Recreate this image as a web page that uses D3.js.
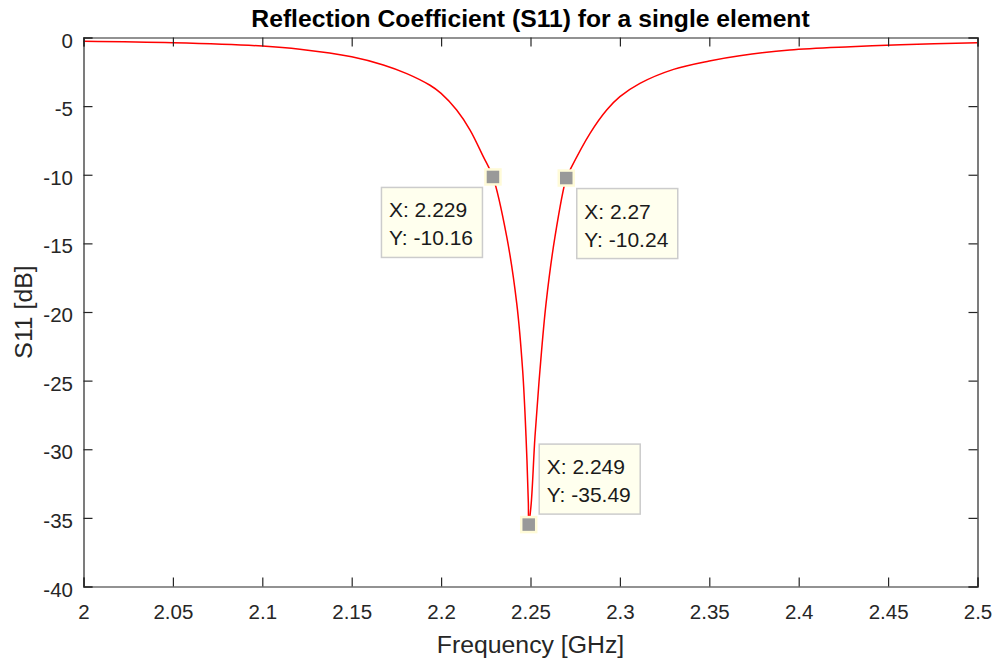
<!DOCTYPE html>
<html>
<head>
<meta charset="utf-8">
<script src="https://cdn.jsdelivr.net/npm/d3@7"></script>
<style>
  body { margin: 0; background: #fff; }
  text { font-family: "Liberation Sans", Arial, Helvetica, sans-serif; }
</style>
</head>
<body>
<div id="chart"></div>
<script>
// S11 curve (GHz, dB)
var freq = [2.000, 2.050, 2.100, 2.121, 2.150, 2.1677, 2.1808, 2.1938, 2.200, 2.2087,
            2.2162, 2.2236, 2.229, 2.2367, 2.2423, 2.2456, 2.2475, 2.2488, 2.249,
            2.2504, 2.2525, 2.2553, 2.2587, 2.2637, 2.270, 2.2721, 2.2833, 2.2926,
            2.300, 2.3112, 2.330, 2.350, 2.367, 2.395, 2.429, 2.457, 2.500];
var s11 = [-0.27, -0.38, -0.62, -0.85, -1.40, -2.00, -2.63, -3.48, -4.07, -5.28,
           -6.74, -8.68, -10.16, -14.51, -19.37, -24.23, -29.09, -33.94, -35.49,
           -33.94, -29.09, -24.23, -19.37, -14.51, -10.24, -9.65, -6.98, -5.28,
           -4.31, -3.34, -2.32, -1.71, -1.33, -0.91, -0.67, -0.53, -0.38];

// data tips
var tipX = [2.229, 2.27, 2.249];
var tipY = [-10.16, -10.24, -35.49];
var tipSide = ["below-left", "below-right", "above-right"];

var xTicks = [2, 2.05, 2.1, 2.15, 2.2, 2.25, 2.3, 2.35, 2.4, 2.45, 2.5];
var yTicks = [0, -5, -10, -15, -20, -25, -30, -35, -40];

var width = 995, height = 660;
var margin = {left: 83.5, right: 17.5, top: 37.5, bottom: 73.5};
var axisColor = "#262626";

var svg = d3.select("#chart").append("svg")
    .attr("width", width)
    .attr("height", height);

var x = d3.scaleLinear().domain([2, 2.5]).range([margin.left, width - margin.right]);
var y = d3.scaleLinear().domain([-40, 0]).range([height - margin.bottom, margin.top]);

var pts = freq.map(function(f, i) { return [f, s11[i]]; });

// curve
svg.append("path")
    .datum(pts)
    .attr("fill", "none")
    .attr("stroke", "#ff0000")
    .attr("stroke-width", 1.5)
    .attr("d", d3.line()
        .x(function(d) { return x(d[0]); })
        .y(function(d) { return y(d[1]); })
        .curve(d3.curveCatmullRom.alpha(0.5)));

// axes (box with inward ticks on all sides)
var tick = 9;
var axBottom = svg.append("g").attr("transform", `translate(0, ${y(-40)})`)
    .call(d3.axisBottom(x).tickValues(xTicks).tickSize(-tick).tickPadding(0)
        .tickFormat(function(d) { return String(+d.toFixed(2)); }));
var axTop = svg.append("g").attr("transform", `translate(0, ${y(0)})`)
    .call(d3.axisTop(x).tickValues(xTicks).tickSize(-tick).tickFormat(""));
var axLeft = svg.append("g").attr("transform", `translate(${x(2)}, 0)`)
    .call(d3.axisLeft(y).tickValues(yTicks).tickSize(-tick).tickPadding(0)
        .tickFormat(function(d) { return String(d).replace("\u2212", "-"); }));
var axRight = svg.append("g").attr("transform", `translate(${x(2.5)}, 0)`)
    .call(d3.axisRight(y).tickValues(yTicks).tickSize(-tick).tickFormat(""));

[axBottom, axTop, axLeft, axRight].forEach(function(g) {
  g.select(".domain").attr("stroke", axisColor).attr("stroke-width", 1.2);
  g.selectAll(".tick line").attr("stroke", axisColor).attr("stroke-width", 1.2);
  g.selectAll("text")
    .attr("fill", axisColor)
    .style("font-size", "20.5px")
    .style("font-family", "Liberation Sans, Arial, sans-serif");
});
axBottom.selectAll(".tick text").attr("y", 32.5).attr("dy", null);
axLeft.selectAll(".tick text").attr("x", -10.5).attr("dy", null).attr("y", 9.5);

// titles
svg.append("text")
    .attr("x", (x(2) + x(2.5)) / 2)
    .attr("y", 26.7)
    .attr("text-anchor", "middle")
    .style("font-size", "24.7px")
    .style("font-weight", "bold")
    .attr("fill", "#000")
    .text("Reflection Coefficient (S11) for a single element");

svg.append("text")
    .attr("x", (x(2) + x(2.5)) / 2)
    .attr("y", 652.5)
    .attr("text-anchor", "middle")
    .style("font-size", "24.8px")
    .attr("fill", axisColor)
    .text("Frequency [GHz]");

svg.append("text")
    .attr("transform", `translate(32, ${(y(0) + y(-40)) / 2}) rotate(-90)`)
    .attr("text-anchor", "middle")
    .style("font-size", "24.8px")
    .attr("fill", axisColor)
    .text("S11 [dB]");

// data tips
var boxW = 101, boxH = 70, gap = 10.5;
tipX.forEach(function(fx, i) {
  var mx = x(fx), my = y(tipY[i]);
  var side = tipSide[i];
  var bx = side.indexOf("left") >= 0 ? mx - gap - boxW : mx + gap;
  var by = side.indexOf("below") >= 0 ? my + gap : my - gap - boxH;

  var tip = svg.append("g");
  tip.append("rect")
      .attr("x", bx).attr("y", by)
      .attr("width", boxW).attr("height", boxH)
      .attr("fill", "#ffffee")
      .attr("stroke", "#cccccc")
      .attr("stroke-width", 1.5);
  tip.append("text")
      .attr("x", bx + 7.5).attr("y", by + 30)
      .style("font-size", "21px")
      .attr("fill", "#1a1a1a")
      .text("X: " + fx);
  tip.append("text")
      .attr("x", bx + 7.5).attr("y", by + 58)
      .style("font-size", "21px")
      .attr("fill", "#1a1a1a")
      .text("Y: " + tipY[i]);

  svg.append("rect")
      .attr("x", mx - 7.5).attr("y", my - 7.5)
      .attr("width", 15).attr("height", 15)
      .attr("fill", "#999999")
      .attr("stroke", "#fffbd8")
      .attr("stroke-width", 2.5);
});
</script>
</body>
</html>
